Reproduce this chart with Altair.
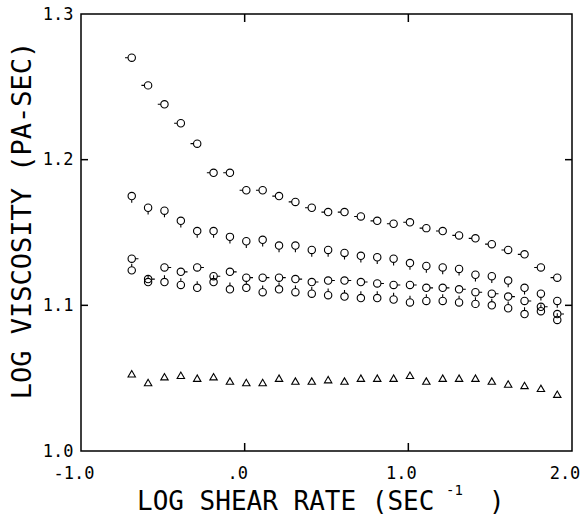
import altair as alt
import pandas as pd

# ---- data ----
shear = [-0.69, -0.59, -0.49, -0.39, -0.29, -0.19, -0.09, 0.01, 0.11, 0.21,
         0.31, 0.41, 0.51, 0.61, 0.71, 0.81, 0.91, 1.01, 1.11, 1.21,
         1.31, 1.41, 1.51, 1.61, 1.71, 1.81, 1.91]
visc_a = [1.270, 1.251, 1.238, 1.225, 1.211, 1.191, 1.191, 1.179, 1.179, 1.175,
          1.171, 1.167, 1.164, 1.164, 1.161, 1.158, 1.156, 1.157, 1.153, 1.151,
          1.148, 1.146, 1.142, 1.138, 1.135, 1.126, 1.119]
visc_b = [1.175, 1.167, 1.165, 1.158, 1.151, 1.151, 1.147, 1.144, 1.145, 1.141,
          1.141, 1.138, 1.138, 1.136, 1.134, 1.133, 1.132, 1.129, 1.127, 1.126,
          1.125, 1.121, 1.120, 1.117, 1.112, 1.108, 1.103]
visc_c = [1.132, 1.118, 1.126, 1.123, 1.126, 1.120, 1.123, 1.119, 1.119, 1.119,
          1.118, 1.116, 1.117, 1.117, 1.116, 1.115, 1.114, 1.114, 1.112, 1.112,
          1.111, 1.109, 1.108, 1.106, 1.103, 1.099, 1.094]
visc_d = [1.124, 1.116, 1.116, 1.114, 1.112, 1.116, 1.111, 1.112, 1.109, 1.111,
          1.109, 1.108, 1.107, 1.106, 1.105, 1.105, 1.104, 1.102, 1.103, 1.103,
          1.102, 1.101, 1.100, 1.098, 1.094, 1.096, 1.090]
visc_t = [1.053, 1.047, 1.051, 1.052, 1.050, 1.051, 1.048, 1.047, 1.047, 1.050,
          1.048, 1.048, 1.049, 1.048, 1.050, 1.050, 1.050, 1.052, 1.048, 1.050,
          1.050, 1.050, 1.048, 1.046, 1.045, 1.043, 1.039]

x_ticks = [-1.0, 0.0, 1.0, 2.0]
x_tick_labels = ["-1.0", ".0", "1.0", "2.0"]
y_ticks = [1.0, 1.1, 1.2, 1.3]
x_inner_ticks = [0.0, 1.0]
y_inner_ticks = [1.1, 1.2]

FONT = "DejaVu Sans Mono"
W, H = 491, 437
X0, X1, Y0, Y1 = -1.0, 2.0, 1.0, 1.3
TICK_X = 7 * (X1 - X0) / W      # inner tick length (7 px) in data units
TICK_Y = 8 * (Y1 - Y0) / H      # inner tick length (8 px) in data units

xs = alt.Scale(domain=[X0, X1], nice=False, zero=False)
ys = alt.Scale(domain=[Y0, Y1], nice=False, zero=False)

y_axis = alt.Axis(values=y_ticks, format=".1f", grid=False, ticks=False, tickSize=0,
                  domain=False, labelFont=FONT, labelFontSize=17, labelColor="black",
                  labelPadding=8, labelFlush=False, labelOverlap=False,
                  title="LOG VISCOSITY (PA-SEC)", titleFont=FONT, titleFontSize=27,
                  titleFontWeight="normal", titleColor="black", titleX=-59, titleY=206,
                  titleAngle=-90, titleAlign="center", titleBaseline="middle")


def X(field="x"):
    return alt.X(f"{field}:Q", scale=xs, axis=None)


def Y(field="y"):
    return alt.Y(f"{field}:Q", scale=ys, axis=y_axis)


R = 0.55
circle = f"M{R},0A{R},{R},0,1,1,{-R},0A{R},{R},0,1,1,{R},0"
shapes = {
    "a": circle + f"M{-R},0L-1,0",
    "b": circle + f"M0,{R}L0,1",
    "c": circle + f"M{R},0L1,0",
    "d": circle + f"M0,{-R}L0,-1",
}

layers = []
series = {"a": visc_a, "b": visc_b, "c": visc_c, "d": visc_d}
for key, vals in series.items():
    df = pd.DataFrame({"x": shear, "y": vals})
    layers.append(
        alt.Chart(df).mark_point(shape=shapes[key], filled=False, size=180,
                                 color="black", strokeWidth=1.1, opacity=1)
        .encode(x=X(), y=Y())
    )

df_t = pd.DataFrame({"x": shear, "y": visc_t})
layers.append(
    alt.Chart(df_t).mark_point(shape="triangle-up", filled=False, size=55,
                               color="black", strokeWidth=1.1, opacity=1)
    .encode(x=X(), y=Y())
)

# inner tick marks on the frame
xt = pd.DataFrame({"x": x_inner_ticks, "b0": Y0, "b1": Y0 + TICK_Y, "t0": Y1, "t1": Y1 - TICK_Y})
yt = pd.DataFrame({"y": y_inner_ticks, "l0": X0, "l1": X0 + TICK_X, "r0": X1, "r1": X1 - TICK_X})
rule = dict(color="black", strokeWidth=1.5)
layers.append(alt.Chart(xt).mark_rule(**rule).encode(x=X(), y=Y("b0"), y2="b1:Q"))
layers.append(alt.Chart(xt).mark_rule(**rule).encode(x=X(), y=Y("t0"), y2="t1:Q"))
layers.append(alt.Chart(yt).mark_rule(**rule).encode(y=Y(), x=X("l0"), x2="l1:Q"))
layers.append(alt.Chart(yt).mark_rule(**rule).encode(y=Y(), x=X("r0"), x2="r1:Q"))

# x tick labels
xl = pd.DataFrame({"x": x_ticks, "t": x_tick_labels})
layers.append(alt.Chart(xl).mark_text(font=FONT, fontSize=17, align="center",
                                      baseline="middle", dx=-7, color="black")
              .encode(x=X(), y=alt.value(H + 23), text="t:N"))

# x-axis title with superscript
one = alt.Data(values=[{"k": 1}])
layers.append(alt.Chart(one).mark_text(text="LOG SHEAR RATE (SEC", font=FONT, fontSize=26,
                                        align="left", baseline="alphabetic", color="black")
              .encode(x=alt.value(56), y=alt.value(496)))
layers.append(alt.Chart(one).mark_text(text="-1", font=FONT, fontSize=14,
                                        align="left", baseline="alphabetic", color="black")
              .encode(x=alt.value(365), y=alt.value(481)))
layers.append(alt.Chart(one).mark_text(text=")", font=FONT, fontSize=26,
                                        align="left", baseline="alphabetic", color="black")
              .encode(x=alt.value(408), y=alt.value(496)))

chart = alt.layer(*layers).properties(
    width=W, height=H,
    autosize=alt.AutoSizeParams(type="none"),
    padding={"left": 81, "top": 14, "right": 9, "bottom": 67},
    background="white",
).configure_view(stroke="black", strokeWidth=1.5)

chart.save("out.html", embed_options={"renderer": "svg", "actions": False})
